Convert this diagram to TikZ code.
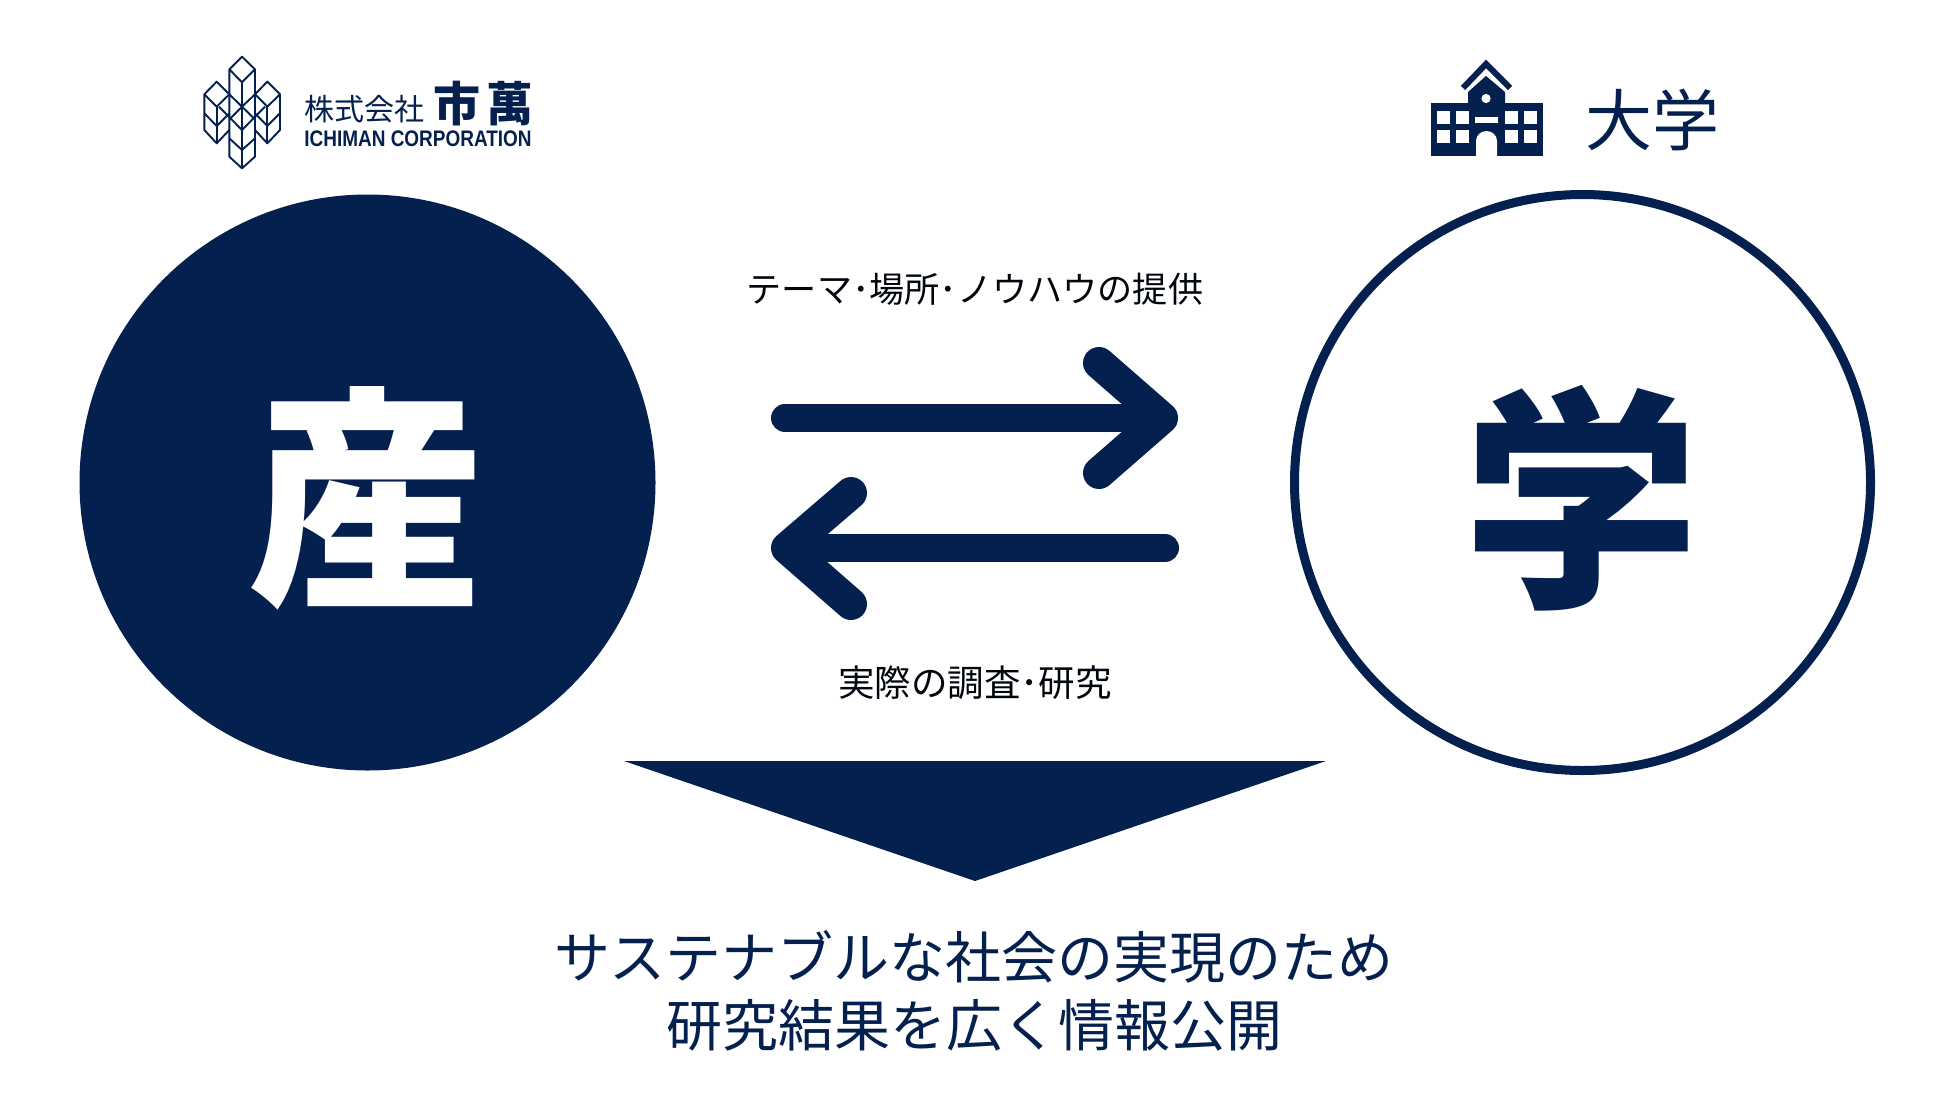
\documentclass[tikz,border=0pt]{standalone}
\usepackage{fontspec}
\setmainfont{Noto Sans CJK JP}
\newfontfamily\latinfont{Liberation Sans}
\usepackage{tikz}
\definecolor{navy}{HTML}{04204E}
\tikzset{
  x=1pt, y=-1pt,
  caption/.style={text=black!85!navy, font=\fontsize{#1}{40}\selectfont, inner sep=0pt},
  result/.style={text=navy, font=\fontsize{56}{68}\selectfont, inner sep=0pt, align=center},
  bigchar/.style={text=#1, font=\fontsize{236}{236}\selectfont\bfseries, inner sep=0pt},
  shaft/.style={draw=navy, line width=28pt, line cap=round},
  head/.style={draw=navy, line width=32pt, line cap=round, line join=round},
  logoline/.style={draw=navy, line width=1.9pt, line join=round}
}
\begin{document}
\begin{tikzpicture}
  \useasboundingbox (0,0) rectangle (1950,1097);
  % circles
  \node (san) [circle, fill=navy, minimum size=576pt, inner sep=0pt] at (367.5,482.5) {};
  \node (gaku) [circle, draw=navy, line width=9pt, minimum size=576pt, inner sep=0pt] at (1582.5,482.5) {};
  \node [bigchar=white] at (366,498) {産};
  \node [bigchar=navy] at (1581,498) {学};
  % arrows
  \coordinate (r1) at (785,418);
  \coordinate (r2) at (1162,418);
  \coordinate (l1) at (1165,548);
  \coordinate (l2) at (787,548);
  \draw [shaft] (r1) -- (r2);
  \draw [head] (1099,363) -- (r2) -- (1099,473);
  \draw [shaft] (l1) -- (l2);
  \draw [head] (851,493) -- (l2) -- (851,604);
  \node (give) [caption=35.1] at (975,289) {テーマ･場所･ノウハウの提供};
  \node (study) [caption=36.5] at (975,682.5) {実際の調査･研究};
  % result
  \fill [navy] (624,761) -- (1326,761) -- (975,881) -- cycle;
  \node (goal) [result] at (974,991) {サステナブルな社会の実現のため\\研究結果を広く情報公開};
  % school
  \fill [navy] (1431,103) rectangle (1543,156);
  \fill [navy] (1468,103) -- (1468,92) -- (1486,76) -- (1505,92) -- (1505,103) -- cycle;
  \draw [navy, line width=6pt] (1463,88) -- (1486,64) -- (1510,88);
  \fill [white] (1486,98.5) circle (4.6);
  \foreach \cx in {1437,1456,1505,1524}
    \foreach \cy in {111,130}
      \fill [white] (\cx,\cy) rectangle +(12.5,13);
  \fill [white] (1475,117) rectangle (1498,123);
  \fill [white] (1476,156) -- (1476,141) arc (180:0:10.5 and -10) -- (1497,156) -- cycle;
  \node (univ) [text=navy, font=\fontsize{67}{67}\selectfont, inner sep=0pt] at (1652,119.5) {大学};
  % logo
  \begin{scope}[shift={(195,50)}, x=0.3333pt, y=-0.3333pt, logoline]
    \draw (141,20) -- (180,58) -- (141,97) -- (103,58) -- cycle;
    \draw (103,58) -- (103,320) -- (141,355) -- (180,320) -- (180,58);
    \draw (141,97) -- (141,355);
    \draw (65,95) -- (103,133) -- (65,170) -- (28,133) -- cycle;
    \draw (28,133) -- (28,240) -- (65,280) -- (103,240);
    \draw (28,190) -- (65,228) -- (103,190);
    \draw (65,170) -- (65,280);
    \draw (217,95) -- (255,133) -- (217,170) -- (180,133) -- cycle;
    \draw (255,133) -- (255,240) -- (217,280) -- (180,240);
    \draw (255,190) -- (217,228) -- (180,190);
    \draw (217,170) -- (217,280);
    \draw (103,133) -- (141,170) -- (180,133);
    \draw (72,170) -- (141,240) -- (210,170);
    \draw (103,208) -- (141,170) -- (180,208);
    \draw (103,265) -- (141,300) -- (180,265);
  \end{scope}
  \node (kabu) [text=navy, font=\fontsize{30}{30}\selectfont, inner sep=0pt] at (364,109) {株式会社};
  \node (ichi) [text=navy, font=\fontsize{47}{47}\selectfont\bfseries, inner sep=0pt] at (457,104) {市};
  \node (man) [text=navy, font=\fontsize{47}{47}\selectfont\bfseries, inner sep=0pt] at (510,104) {萬};
  \node (corp) [text=navy, font=\latinfont\bfseries\fontsize{22.5}{24}\selectfont, inner sep=0pt, xscale=0.843] at (418,138.5) {ICHIMAN CORPORATION};
\end{tikzpicture}
\end{document}
